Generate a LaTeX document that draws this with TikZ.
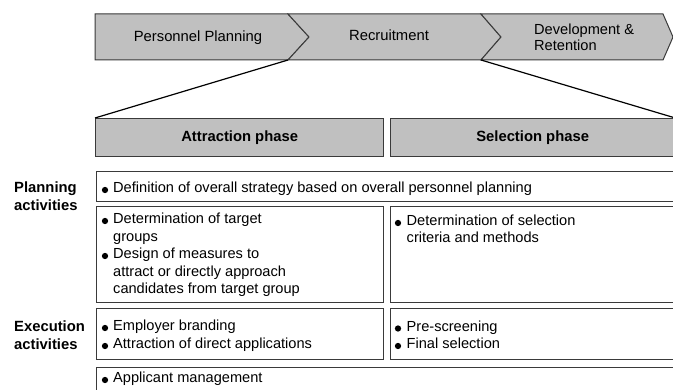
\documentclass[tikz,border=0pt]{standalone}
\usepackage{fontspec}
\setmainfont{Liberation Sans}
\definecolor{chevgray}{HTML}{C0C0C0}
\definecolor{edgegray}{HTML}{3A3A3A}
\begin{document}
\begin{tikzpicture}[x=1pt,y=-1pt,
  chev/.style={fill=chevgray, draw=edgegray, line width=1pt, line join=miter},
  boxed/.style={draw=edgegray, line width=1.3pt, inner sep=0pt, anchor=north west},
  phase/.style={boxed, fill=chevgray, font=\fontsize{14.8}{17}\selectfont\bfseries},
  txt/.style={anchor=base west, inner sep=0pt, font=\fontsize{14.6}{17}\selectfont},
  ctxt/.style={anchor=base, inner sep=0pt, font=\fontsize{14.8}{17}\selectfont},
  lbl/.style={anchor=base west, inner sep=0pt, font=\fontsize{14.8}{17}\selectfont\bfseries},
  bul/.style={circle, fill=black, inner sep=0pt, minimum size=6.3pt},
  conn/.style={draw=black, line width=1.2pt}]
\clip (0,0) rectangle (673,390);
\fill[white] (0,0) rectangle (673,390);
% process chevrons
\draw[chev] (95,14) -- (288,14) -- (309,37) -- (288,60) -- (95,60) -- cycle;
\draw[chev] (288,14) -- (481,14) -- (501,37) -- (481,60) -- (288,60) -- (309,37) -- cycle;
\draw[chev] (481,14) -- (663,14) -- (673,37) -- (663,60) -- (481,60) -- (501,37) -- cycle;
\node[ctxt] (pp) at (198,41.5) {Personnel Planning};
\node[ctxt] (rec) at (389,41) {Recruitment};
\node[txt] (dev1) at (534,35) {Development \&};
\node[txt] (dev2) at (534,51) {Retention};
\coordinate (c1) at (288,60);
\coordinate (c2) at (481,60);
% phase boxes
\node[phase, minimum width=288pt, minimum height=38pt] (attr) at (95,118) {Attraction phase};
\node[phase, minimum width=284pt, minimum height=38pt] (sel) at (390,118) {Selection phase};
\draw[conn] (c1) -- (attr.north west);
\draw[conn] (c2) -- (sel.north east);
% activity boxes
\node[boxed, minimum width=590pt, minimum height=30pt] (def) at (96,171) {};
\node[boxed, minimum width=287pt, minimum height=96pt] (pl) at (96,206) {};
\node[boxed, minimum width=290pt, minimum height=96pt] (pr) at (390,206) {};
\node[boxed, minimum width=287pt, minimum height=51pt] (el) at (96,308) {};
\node[boxed, minimum width=290pt, minimum height=51pt] (er) at (390,308) {};
\node[boxed, minimum width=590pt, minimum height=40pt] (app) at (96,367) {};
% row labels
\node[lbl] (plab1) at (14,193) {Planning};
\node[lbl] (plab2) at (14,210.5) {activities};
\node[lbl] (elab1) at (14,332) {Execution};
\node[lbl] (elab2) at (14,349.5) {activities};
% texts
\node[bul] (b1) at (105,190) {};
\node[txt] (t1) at (113,193) {Definition of overall strategy based on overall personnel planning};
\node[bul] (b2) at (105,221) {};
\node[txt] (t2a) at (113,224) {Determination of target};
\node[txt] (t2b) at (113,241.5) {groups};
\node[bul] (b3) at (105,256) {};
\node[txt] (t3a) at (113,259) {Design of measures to};
\node[txt] (t3b) at (113,276.5) {attract or directly approach};
\node[txt] (t3c) at (113,294) {candidates from target group};
\node[bul] (b4) at (398,223) {};
\node[txt] (t4a) at (406.5,226) {Determination of selection};
\node[txt] (t4b) at (406.5,243) {criteria and methods};
\node[bul] (b5) at (105,328) {};
\node[txt] (t5) at (113,331) {Employer branding};
\node[bul] (b6) at (105,346) {};
\node[txt] (t6) at (113,349) {Attraction of direct applications};
\node[bul] (b7) at (398,328.5) {};
\node[txt] (t7) at (406.5,331.5) {Pre-screening};
\node[bul] (b8) at (398,346) {};
\node[txt] (t8) at (406.5,349) {Final selection};
\node[bul] (b9) at (105,380) {};
\node[txt] (t9) at (113,383) {Applicant management};
\end{tikzpicture}
\end{document}
